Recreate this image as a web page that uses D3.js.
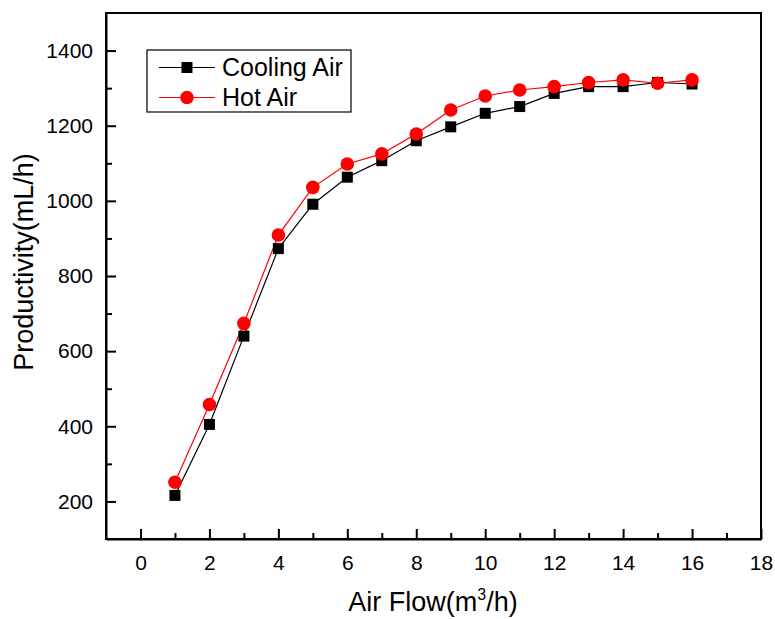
<!DOCTYPE html>
<html>
<head>
<meta charset="utf-8">
<script src="https://cdn.jsdelivr.net/npm/d3@7"></script>
<style>
  body { margin: 0; background: #fff; }
  text { font-family: "Liberation Sans", Arial, sans-serif; fill: #000; }
</style>
</head>
<body>
<div id="chart"></div>
<script>
// data
const airFlow = [1, 2, 3, 4, 5, 6, 7, 8, 9, 10, 11, 12, 13, 14, 15, 16];
const coolingAir = [216, 405, 640, 873, 991, 1063, 1107, 1160, 1197, 1233, 1251, 1286, 1304, 1304, 1315, 1311];
const hotAir = [251, 458, 674, 909, 1036, 1098, 1125, 1178, 1242, 1279, 1295, 1304, 1315, 1322, 1313, 1322];
const xMajorTicks = [0, 2, 4, 6, 8, 10, 12, 14, 16, 18];
const xMinorTicks = [1, 3, 5, 7, 9, 11, 13, 15, 17];
const yMajorTicks = [200, 400, 600, 800, 1000, 1200, 1400];
const yMinorTicks = [300, 500, 700, 900, 1100, 1300];

const series = [
  { name: 'Cooling Air', values: coolingAir, color: '#000', shape: 'square' },
  { name: 'Hot Air', values: hotAir, color: '#ff0000', shape: 'circle' },
];

const W = 775, H = 619;
const margin = { top: 13, right: 14, bottom: 80, left: 106 };
const width = W - margin.left - margin.right;
const height = H - margin.top - margin.bottom;

const svg = d3.select('#chart').append('svg')
    .attr('width', W)
    .attr('height', H);

const g = svg.append('g')
    .attr('transform', `translate(${margin.left},${margin.top})`);

const x = d3.scaleLinear().domain([-1, 18]).range([0, width]);
const y = d3.scaleLinear().domain([100, 1500]).range([height, 0]);

// frame (top + right are plain lines)
g.append('rect')
    .attr('width', width)
    .attr('height', height)
    .attr('fill', 'none')
    .attr('stroke', '#000')
    .attr('stroke-width', 2);

// axes, ticks point into the plot
g.append('g')
    .attr('transform', `translate(0,${height})`)
    .call(d3.axisBottom(x).tickValues(xMajorTicks).tickFormat(d3.format('d'))
        .tickSizeInner(-10).tickSizeOuter(0).tickPadding(16));
g.append('g')
    .attr('transform', `translate(0,${height})`)
    .call(d3.axisBottom(x).tickValues(xMinorTicks).tickSizeInner(-6).tickSizeOuter(0).tickFormat(''))
    .select('.domain').remove();

g.append('g')
    .call(d3.axisLeft(y).tickValues(yMajorTicks).tickFormat(d3.format('d'))
        .tickSizeInner(-10).tickSizeOuter(0).tickPadding(13));
g.append('g')
    .call(d3.axisLeft(y).tickValues(yMinorTicks).tickSizeInner(-6).tickSizeOuter(0).tickFormat(''))
    .select('.domain').remove();

g.selectAll('.domain').attr('stroke-width', 2);
g.selectAll('.tick line').attr('stroke-width', 2);
g.selectAll('.tick text')
    .style('font-size', '21px')
    .style('font-family', '"Liberation Sans", Arial, sans-serif');

// lines + markers
const line = d3.line()
    .x((d, i) => x(airFlow[i]))
    .y(d => y(d));

series.forEach(s => {
  g.append('path')
      .datum(s.values)
      .attr('fill', 'none')
      .attr('stroke', s.color)
      .attr('stroke-width', 1.2)
      .attr('d', line);
});

series.forEach(s => {
  const pts = g.selectAll('.pt-' + s.shape)
      .data(s.values)
      .join(s.shape === 'square' ? 'rect' : 'circle')
      .attr('class', 'pt-' + s.shape)
      .attr('fill', s.color);
  if (s.shape === 'square') {
    pts.attr('x', (d, i) => x(airFlow[i]) - 5.5)
        .attr('y', d => y(d) - 5.5)
        .attr('width', 11)
        .attr('height', 11);
  } else {
    pts.attr('cx', (d, i) => x(airFlow[i]))
        .attr('cy', d => y(d))
        .attr('r', 6.8);
  }
});

// legend
const legend = g.append('g')
    .attr('transform', `translate(${147 - margin.left},${50 - margin.top})`);
legend.append('rect')
    .attr('width', 204)
    .attr('height', 62)
    .attr('fill', '#fff')
    .attr('stroke', '#000')
    .attr('stroke-width', 1.2);

series.forEach((s, i) => {
  const row = legend.append('g').attr('transform', `translate(0,${17.5 + i * 30})`);
  row.append('line')
      .attr('x1', 12).attr('x2', 68)
      .attr('stroke', s.color)
      .attr('stroke-width', 1.2);
  if (s.shape === 'square') {
    row.append('rect').attr('x', 40 - 5.5).attr('y', -5.5).attr('width', 11).attr('height', 11).attr('fill', s.color);
  } else {
    row.append('circle').attr('cx', 40).attr('r', 6.8).attr('fill', s.color);
  }
  row.append('text')
      .attr('x', 75)
      .attr('y', 8.5)
      .style('font-size', '25px')
      .text(s.name);
});

// axis titles
svg.append('text')
    .attr('x', 433)
    .attr('y', 611)
    .attr('text-anchor', 'middle')
    .style('font-size', '27px')
    .html('Air Flow(m<tspan dy="-11" style="font-size:16px">3</tspan><tspan dy="11">/h)</tspan>');

svg.append('text')
    .attr('transform', `translate(33,262) rotate(-90)`)
    .attr('text-anchor', 'middle')
    .style('font-size', '27px')
    .text('Productivity(mL/h)');
</script>
</body>
</html>
